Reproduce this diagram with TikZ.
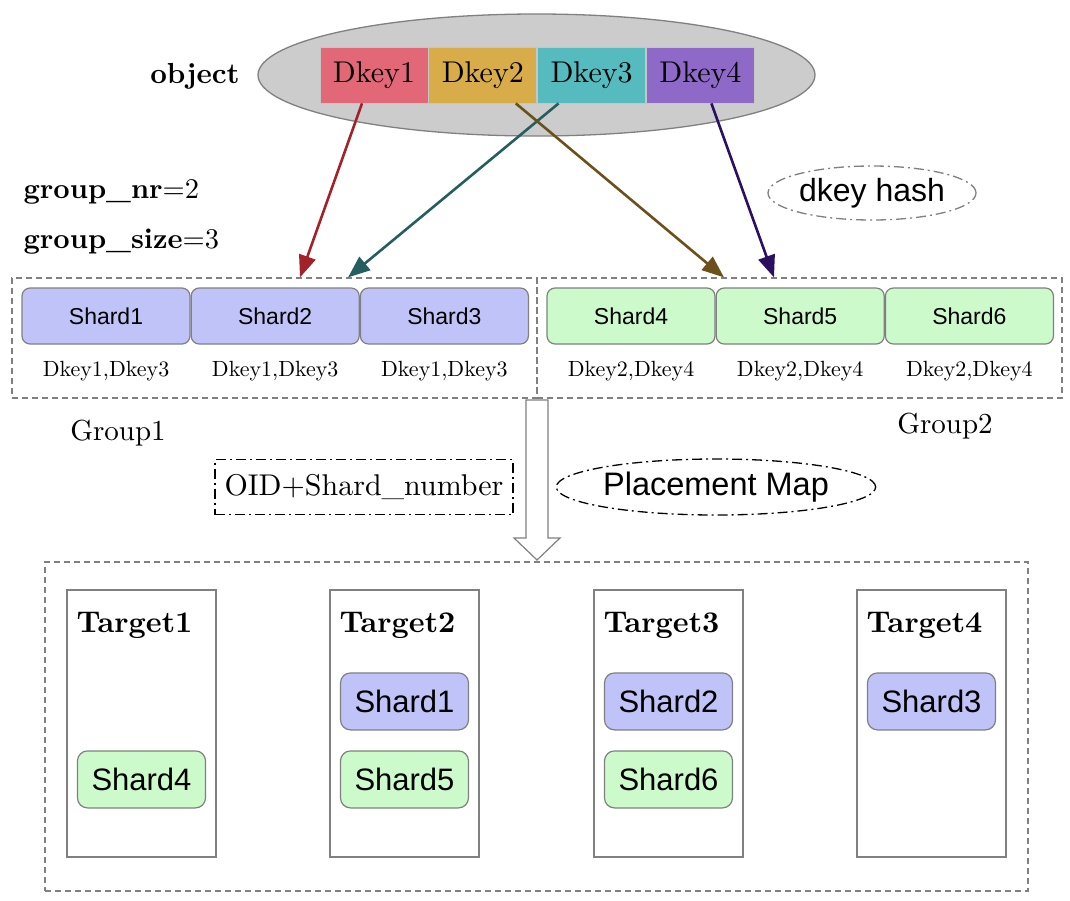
\documentclass[tikz,border=0pt]{standalone}
\usepackage{fontspec}
\setmainfont{lmroman10}[Extension=.otf, UprightFont=*-regular, BoldFont=*-bold, ItalicFont=*-italic, BoldItalicFont=*-bolditalic]
\setsansfont{Liberation Sans}
\usepackage{tikz}
\usetikzlibrary{shapes.geometric, arrows.meta, positioning}

\definecolor{edgegray}{HTML}{808080}
\definecolor{keyred}{HTML}{E26878}
\definecolor{keygold}{HTML}{D8AC48}
\definecolor{keyteal}{HTML}{55BBBF}
\definecolor{keyviolet}{HTML}{8E69C8}
\definecolor{shardblue}{HTML}{C0C3F8}
\definecolor{shardgreen}{HTML}{CCFACB}
\definecolor{arrred}{HTML}{A32128}
\definecolor{arrteal}{HTML}{255E5E}
\definecolor{arrbrown}{HTML}{6B5019}
\definecolor{arrviolet}{HTML}{2B0F60}

\begin{document}
\begin{tikzpicture}[x=1pt, y=-1pt,
  keybox/.style={draw=gray!45, line width=0.8pt, minimum width=108pt, minimum height=56pt, inner sep=0pt, font=\fontsize{30}{32}\selectfont},
  shardbox/.style={draw=edgegray, line width=1.2pt, rounded corners=8pt, minimum width=168pt, minimum height=56pt, inner sep=0pt, font=\sffamily\fontsize{23}{24}\selectfont},
  tshard/.style={draw=edgegray, line width=1.2pt, rounded corners=10pt, minimum width=128pt, minimum height=57pt, inner sep=0pt, font=\sffamily\fontsize{31}{32}\selectfont},
  keylabel/.style={font=\fontsize{22}{24}\selectfont},
  grouplabel/.style={font=\fontsize{29}{30}\selectfont},
  groupbox/.style={draw=edgegray, line width=1.2pt, dash pattern=on 6pt off 4pt, inner sep=0pt},
  targetbox/.style={draw=edgegray, line width=1.2pt, minimum width=149pt, minimum height=267pt, inner sep=0pt},
  dashdot/.style={line width=1.3pt, dash pattern=on 10pt off 4pt on 2pt off 4pt},
  hasharrow/.style={line width=2.6pt, -{Triangle[length=22pt, width=17pt]}}
]
\useasboundingbox (0,0) rectangle (1070,900);

% object and its dkeys
\node[ellipse, draw=edgegray, fill=gray!40, line width=1.3pt, minimum width=557pt, minimum height=122pt] (obj) at (536.5,75) {};
\node[keybox, fill=keyred] (k1) at (374,75) {Dkey1};
\node[keybox, fill=keygold, right=0pt of k1] (k2) {Dkey2};
\node[keybox, fill=keyteal, right=0pt of k2] (k3) {Dkey3};
\node[keybox, fill=keyviolet, right=0pt of k3] (k4) {Dkey4};
\node[font=\bfseries\fontsize{29}{30}\selectfont] (objlabel) at (195,76) {object};

\node[anchor=west, font=\fontsize{28.5}{30}\selectfont] (nr) at (20,192) {\textbf{group\_nr}=2};
\node[anchor=west, font=\fontsize{28.5}{30}\selectfont] (size) at (20,242) {\textbf{group\_size}=3};

\node[ellipse, draw=edgegray, dashdot, minimum width=208pt, minimum height=54pt, inner sep=0pt, font=\sffamily\fontsize{32}{34}\selectfont] (hash) at (872,193) {dkey hash};

% the two groups
\node[groupbox, minimum width=525pt, minimum height=120pt] (g1) at (274.5,338) {};
\node[groupbox, minimum width=525pt, minimum height=120pt] (g2) at (799.5,338) {};

\node[shardbox, fill=shardblue] (s1) at (106,316) {Shard1};
\node[shardbox, fill=shardblue, right=0pt of s1] (s2) {Shard2};
\node[shardbox, fill=shardblue, right=0pt of s2] (s3) {Shard3};
\node[shardbox, fill=shardgreen] (s4) at (631,316) {Shard4};
\node[shardbox, fill=shardgreen, right=0pt of s4] (s5) {Shard5};
\node[shardbox, fill=shardgreen, right=0pt of s5] (s6) {Shard6};

\foreach \s in {1,2,3}
  \node[keylabel] (l\s) at ([yshift=-27pt]s\s.south) {Dkey1,Dkey3};
\foreach \s in {4,5,6}
  \node[keylabel] (l\s) at ([yshift=-27pt]s\s.south) {Dkey2,Dkey4};

\node[grouplabel] (gl1) at (118,433) {Group1};
\node[grouplabel] (gl2) at (945,426) {Group2};

% dkey hash arrows
\draw[hasharrow, arrred] ([xshift=-12pt]k1.south) -- ([xshift=25.5pt]g1.north);
\draw[hasharrow, arrteal] ([xshift=-33pt]k3.south) -- ([xshift=73.5pt]g1.north);
\draw[hasharrow, arrbrown] ([xshift=33pt]k2.south) -- ([xshift=-75.5pt]g2.north);
\draw[hasharrow, arrviolet] ([xshift=11pt]k4.south) -- ([xshift=-25.5pt]g2.north);

% placement
\coordinate (flowtop) at (537,400);
\coordinate (flowtip) at (537,560);
\draw[edgegray, fill=white, line width=1.2pt] ([xshift=-11pt]flowtop) -- ([xshift=11pt]flowtop)
  -- ([xshift=11pt, yshift=22pt]flowtip) -- ([xshift=23pt, yshift=22pt]flowtip) -- (flowtip)
  -- ([xshift=-23pt, yshift=22pt]flowtip) -- ([xshift=-11pt, yshift=22pt]flowtip) -- cycle;

\node[draw, dashdot, minimum width=298pt, minimum height=55pt, inner sep=0pt, font=\fontsize{30}{32}\selectfont] (oid) at (364,487) {OID+Shard\_number};
\node[ellipse, draw, dashdot, minimum width=316pt, minimum height=56pt, inner sep=0pt, font=\sffamily\fontsize{32.5}{34}\selectfont] (pmap) at (716,487) {Placement Map};

% targets
\node[groupbox, minimum width=983pt, minimum height=329pt] (pool) at (536.5,726.5) {};
\foreach \i/\x in {1/141.5, 2/404.5, 3/668.5, 4/931.5} {
  \node[targetbox] (t\i) at (\x,723.5) {};
  \node[anchor=west, inner sep=0pt, font=\bfseries\fontsize{30}{32}\selectfont] (tl\i) at ([xshift=10pt, yshift=-36pt]t\i.north west) {Target\i};
}

\node[tshard, fill=shardgreen] (ts4) at ([yshift=-190pt]t1.north) {Shard4};
\node[tshard, fill=shardblue] (ts1) at ([yshift=-112pt]t2.north) {Shard1};
\node[tshard, fill=shardgreen] (ts5) at ([yshift=-190pt]t2.north) {Shard5};
\node[tshard, fill=shardblue] (ts2) at ([yshift=-112pt]t3.north) {Shard2};
\node[tshard, fill=shardgreen] (ts6) at ([yshift=-190pt]t3.north) {Shard6};
\node[tshard, fill=shardblue] (ts3) at ([yshift=-112pt]t4.north) {Shard3};

\end{tikzpicture}
\end{document}
